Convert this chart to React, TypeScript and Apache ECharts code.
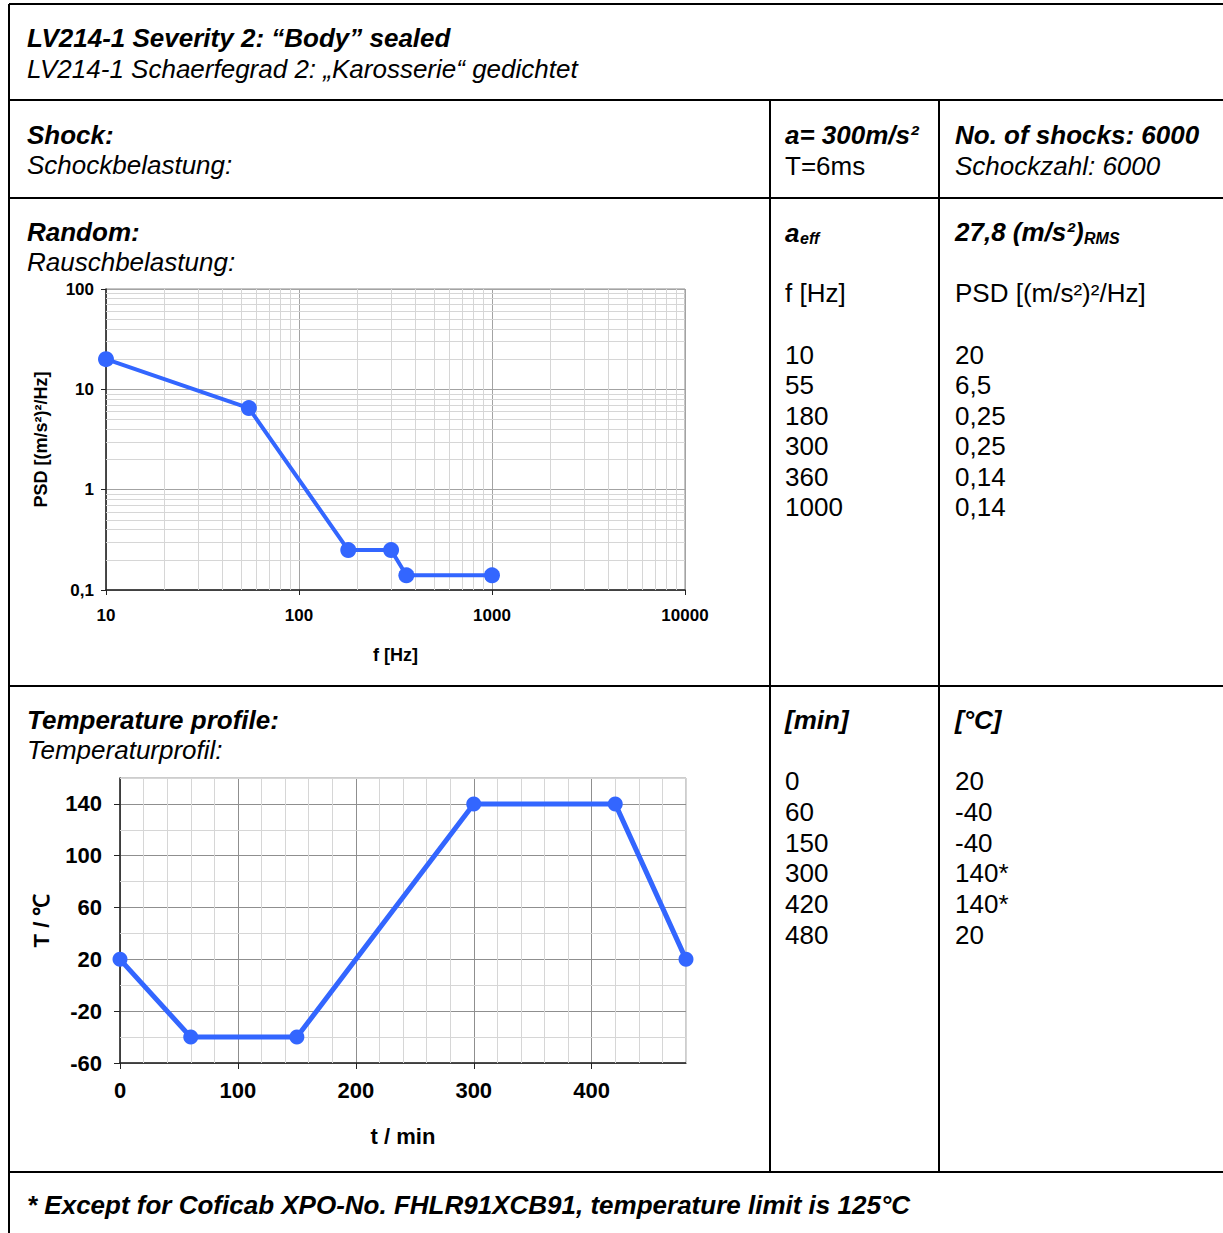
import React, { useEffect, useRef } from 'react';
import * as echarts from 'echarts';

// ---- test data ----
const psdFreq = [10, 55, 180, 300, 360, 1000];
const psdValue = [20, 6.5, 0.25, 0.25, 0.14, 0.14];
const psdRms = 27.8;
const shockAccel = 300;
const shockDurationMs = 6;
const shockCount = 6000;
const tempTime = [0, 60, 150, 300, 420, 480];
const tempValue = [20, -40, -40, 140, 140, 20];
const tempLimit = 125;
const tempTimeTicks = [0, 100, 200, 300, 400];
const tempValueTicks = [-60, -20, 20, 60, 100, 140];
const minorSteps = [2, 3, 4, 5, 6, 7, 8, 9];

// temperature chart axis ranges and fine-grid step
const TIME_RANGE = [0, 480];
const TEMP_RANGE = [-60, 160];
const FINE_STEP = 20;

const FONT = '"Liberation Sans", Arial, Helvetica, sans-serif';
const LINE_BLUE = '#3366ff';
const MAJOR_GRID = '#8f8f8f';
const MINOR_GRID = '#d6d6d6';

const dc = (v: number) => String(+Number(v).toPrecision(6)).replace('.', ',');

const decadeMinors = (decades: number[]) =>
  decades.flatMap((d) => minorSteps.map((s) => d * s));

// fine grid positions that are not already covered by the labelled ticks
function fineGrid(range: number[], major: number[]) {
  const out: number[] = [];
  for (let v = range[0]; v <= range[1]; v += FINE_STEP) {
    if (!major.includes(v)) out.push(v);
  }
  return out;
}

function font(size: number, bold: boolean, italic: boolean) {
  return `${italic ? 'italic ' : ''}${bold ? 'bold ' : ''}${size}px ${FONT}`;
}

function txt(x: number, y: number, text: string, size = 26, bold = false, italic = false) {
  return {
    type: 'text',
    x,
    y,
    silent: true,
    style: {
      text,
      font: font(size, bold, italic),
      fill: '#000',
      textAlign: 'left',
      textVerticalAlign: 'middle',
    },
  };
}

function hLine(y: number, x1: number, x2: number) {
  return { type: 'line', silent: true, shape: { x1, y1: y, x2, y2: y }, style: { stroke: '#000', lineWidth: 2 } };
}
function vLine(x: number, y1: number, y2: number) {
  return { type: 'line', silent: true, shape: { x1: x, y1, x2: x, y2 }, style: { stroke: '#000', lineWidth: 2 } };
}

function buildGraphic() {
  const els: any[] = [];
  // table frame
  els.push(hLine(4, 9, 1223));
  els.push(hLine(100, 9, 1223));
  els.push(hLine(198, 9, 1223));
  els.push(hLine(686, 9, 1223));
  els.push(hLine(1172, 9, 1223));
  els.push(vLine(9, 4, 1233));
  els.push(vLine(770, 100, 1172));
  els.push(vLine(939, 100, 1172));

  const c1 = 27, c2 = 785, c3 = 955;
  els.push(txt(c1, 38, 'LV214-1 Severity 2: \u201cBody\u201d sealed', 26, true, true));
  els.push(txt(c1, 69, 'LV214-1 Schaerfegrad 2: \u201eKarosserie\u201c gedichtet', 26, false, true));

  els.push(txt(c1, 135, 'Shock:', 26, true, true));
  els.push(txt(c1, 165, 'Schockbelastung:', 26, false, true));
  els.push(txt(c2, 135, `a= ${shockAccel}m/s\u00b2`, 26, true, true));
  els.push(txt(c2, 166, `T=${shockDurationMs}ms`, 26, false, false));
  els.push(txt(c3, 135, `No. of shocks: ${shockCount}`, 26, true, true));
  els.push(txt(c3, 166, `Schockzahl: ${shockCount}`, 26, false, true));

  els.push(txt(c1, 232, 'Random:', 26, true, true));
  els.push(txt(c1, 262, 'Rauschbelastung:', 26, false, true));
  els.push(txt(c2, 233, 'a', 26, true, true));
  els.push(txt(c2 + 15, 238, 'eff', 16, true, true));
  els.push(txt(c3, 232, `${dc(psdRms)} (m/s\u00b2)`, 26, true, true));
  els.push(txt(c3 + 129, 238, 'RMS', 16, true, true));
  els.push(txt(c2, 293, 'f [Hz]'));
  els.push(txt(c3, 293, 'PSD [(m/s\u00b2)\u00b2/Hz]'));
  psdFreq.forEach((f, i) => {
    els.push(txt(c2, 355 + i * 30.4, String(f)));
    els.push(txt(c3, 355 + i * 30.4, dc(psdValue[i])));
  });

  els.push(txt(c1, 720, 'Temperature profile:', 26, true, true));
  els.push(txt(c1, 750, 'Temperaturprofil:', 26, false, true));
  els.push(txt(c2, 720, '[min]', 26, true, true));
  els.push(txt(c3, 720, '[\u00b0C]', 26, true, true));
  tempTime.forEach((t, i) => {
    const v = tempValue[i];
    els.push(txt(c2, 781 + i * 30.8, String(t)));
    els.push(txt(c3, 781 + i * 30.8, `${v}${v > tempLimit ? '*' : ''}`));
  });

  els.push(
    txt(c1, 1205, `* Except for Coficab XPO-No. FHLR91XCB91, temperature limit is ${tempLimit}\u00b0C`, 26, true, true)
  );
  return els;
}

const axisText = { fontFamily: FONT, fontWeight: 'bold' as const, color: '#000' };

function minorMarkLine(xs: number[], ys: number[]) {
  return {
    silent: true,
    z: 1,
    symbol: ['none', 'none'],
    label: { show: false },
    emphasis: { disabled: true },
    lineStyle: { color: MINOR_GRID, width: 1, type: 'solid' },
    data: [...xs.map((v) => ({ xAxis: v })), ...ys.map((v) => ({ yAxis: v }))],
  };
}

function buildOption(): any {
  const psdMinorX = decadeMinors([10, 100, 1000]);
  const psdMinorY = decadeMinors([0.1, 1, 10]);
  const tempMinorX = fineGrid(TIME_RANGE, tempTimeTicks);
  const tempMinorY = fineGrid(TEMP_RANGE, tempValueTicks);
  return {
    animation: false,
    backgroundColor: '#fff',
    graphic: buildGraphic(),
    grid: [
      { left: 106, top: 289, width: 579, height: 301, show: true, borderColor: '#8a8a8a', borderWidth: 1 },
      { left: 120, top: 778, width: 566, height: 285, show: true, borderColor: '#9a9a9a', borderWidth: 1 },
    ],
    xAxis: [
      {
        gridIndex: 0,
        type: 'log',
        logBase: 10,
        min: 10,
        max: 10000,
        name: 'f [Hz]',
        nameLocation: 'middle',
        nameGap: 56,
        nameTextStyle: { ...axisText, fontSize: 18 },
        axisLine: { onZero: false, lineStyle: { color: '#222', width: 1.5 } },
        axisTick: { show: true, length: 5, lineStyle: { color: '#222' } },
        axisLabel: { ...axisText, fontSize: 17, margin: 17, formatter: (v: number) => dc(v) },
        splitLine: { show: true, lineStyle: { color: '#a3a3a3', width: 1 } },
      },
      {
        gridIndex: 1,
        type: 'value',
        min: TIME_RANGE[0],
        max: TIME_RANGE[1],
        interval: 100,
        name: 't / min',
        nameLocation: 'middle',
        nameGap: 62,
        nameTextStyle: { ...axisText, fontSize: 22 },
        axisLine: { onZero: false, lineStyle: { color: '#222', width: 1.5 } },
        axisTick: { show: true, length: 6, customValues: tempTimeTicks, lineStyle: { color: '#222' } },
        axisLabel: { ...axisText, fontSize: 22, margin: 16, customValues: tempTimeTicks },
        splitLine: { show: true, lineStyle: { color: MAJOR_GRID, width: 1 } },
      },
    ],
    yAxis: [
      {
        gridIndex: 0,
        type: 'log',
        logBase: 10,
        min: 0.1,
        max: 100,
        name: 'PSD [(m/s\u00b2)\u00b2/Hz]',
        nameLocation: 'middle',
        nameRotate: 90,
        nameGap: 56,
        nameTextStyle: { ...axisText, fontSize: 18 },
        axisLine: { onZero: false, lineStyle: { color: '#222', width: 1.5 } },
        axisTick: { show: true, length: 5, lineStyle: { color: '#222' } },
        axisLabel: { ...axisText, fontSize: 17, margin: 12, formatter: (v: number) => dc(v) },
        splitLine: { show: true, lineStyle: { color: '#a3a3a3', width: 1 } },
      },
      {
        gridIndex: 1,
        type: 'value',
        min: TEMP_RANGE[0],
        max: TEMP_RANGE[1],
        interval: 40,
        name: 'T / \u2103',
        nameLocation: 'middle',
        nameRotate: 90,
        nameGap: 68,
        nameTextStyle: { ...axisText, fontSize: 22 },
        axisLine: { onZero: false, lineStyle: { color: '#222', width: 1.5 } },
        axisTick: { show: true, length: 6, customValues: tempValueTicks, lineStyle: { color: '#222' } },
        axisLabel: { ...axisText, fontSize: 22, margin: 18, customValues: tempValueTicks },
        splitLine: { show: true, lineStyle: { color: MAJOR_GRID, width: 1 } },
      },
    ],
    series: [
      {
        type: 'line',
        xAxisIndex: 0,
        yAxisIndex: 0,
        data: psdFreq.map((f, i) => [f, psdValue[i]]),
        symbol: 'circle',
        symbolSize: 16,
        lineStyle: { color: LINE_BLUE, width: 4 },
        itemStyle: { color: LINE_BLUE },
        z: 3,
        markLine: minorMarkLine(psdMinorX, psdMinorY),
      },
      {
        type: 'line',
        xAxisIndex: 1,
        yAxisIndex: 1,
        data: tempTime.map((t, i) => [t, tempValue[i]]),
        symbol: 'circle',
        symbolSize: 15,
        lineStyle: { color: LINE_BLUE, width: 5 },
        itemStyle: { color: LINE_BLUE },
        z: 3,
        markLine: minorMarkLine(tempMinorX, tempMinorY),
      },
    ],
  };
}

export default function App() {
  const ref = useRef<HTMLDivElement>(null);
  useEffect(() => {
    if (!ref.current) return;
    const chart = echarts.init(ref.current, undefined, { renderer: 'svg' });
    chart.setOption(buildOption());
    return () => chart.dispose();
  }, []);
  return (
    <div
      ref={ref}
      style={{ position: 'absolute', left: 0, top: 0, width: 1223, height: 1233, background: '#fff' }}
    />
  );
}
